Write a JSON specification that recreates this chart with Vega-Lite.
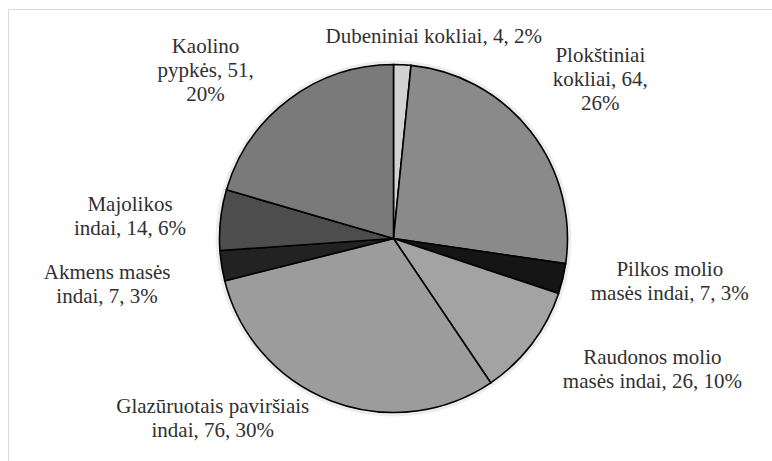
{
  "$schema": "https://vega.github.io/schema/vega-lite/v6.json",
  "width": 771,
  "height": 459,
  "autosize": {"type": "none"},
  "padding": {"left": 8, "top": 9, "right": -7, "bottom": -7},
  "background": "white",
  "config": {
    "view": {"stroke": "#d9d9d9", "strokeWidth": 1},
    "text": {"font": "Liberation Serif", "fontSize": 21, "fill": "#303030", "align": "center", "baseline": "middle", "lineBreak": "\n", "lineHeight": 24}
  },
  "data": {
    "values": [
      {"idx": 1, "cat": "Dubeniniai kokliai", "value": 4, "label": "Dubeniniai kokliai, 4, 2%"},
      {"idx": 2, "cat": "Plokštiniai kokliai", "value": 64, "label": "Plokštiniai\nkokliai, 64,\n26%"},
      {"idx": 3, "cat": "Pilkos molio masės indai", "value": 7, "label": "Pilkos molio\nmasės indai, 7, 3%"},
      {"idx": 4, "cat": "Raudonos molio masės indai", "value": 26, "label": "Raudonos molio\nmasės indai, 26, 10%"},
      {"idx": 5, "cat": "Glazūruotais paviršiais indai", "value": 76, "label": "Glazūruotais paviršiais\nindai, 76, 30%"},
      {"idx": 6, "cat": "Akmens masės indai", "value": 7, "label": "Akmens masės\nindai, 7, 3%"},
      {"idx": 7, "cat": "Majolikos indai", "value": 14, "label": "Majolikos\nindai, 14, 6%"},
      {"idx": 8, "cat": "Kaolino pypkės", "value": 51, "label": "Kaolino\npypkės, 51,\n20%"}
    ]
  },
  "layer": [
    {
      "mark": {"type": "point", "opacity": 0},
      "encoding": {
        "x": {"datum": 0, "type": "quantitative", "axis": null},
        "y": {"datum": 0, "type": "quantitative", "axis": null}
      }
    },
    {
      "mark": {"type": "arc", "outerRadius": 178, "fill": "#000000", "fillOpacity": 0.07, "strokeWidth": 0},
      "encoding": {
        "theta": {"field": "value", "type": "quantitative", "stack": true},
        "order": {"field": "idx", "type": "quantitative"},
        "detail": {"field": "cat", "type": "nominal"}
      }
    },
    {
      "mark": {"type": "arc", "outerRadius": 174, "stroke": "#000000", "strokeWidth": 1.6},
      "encoding": {
        "theta": {"field": "value", "type": "quantitative", "stack": true},
        "order": {"field": "idx", "type": "quantitative"},
        "color": {
          "field": "cat",
          "type": "nominal",
          "legend": null,
          "scale": {
            "domain": ["Dubeniniai kokliai", "Plokštiniai kokliai", "Pilkos molio masės indai", "Raudonos molio masės indai", "Glazūruotais paviršiais indai", "Akmens masės indai", "Majolikos indai", "Kaolino pypkės"],
            "range": ["#d2d2d2", "#8a8a8a", "#151515", "#a3a3a3", "#9c9c9c", "#222222", "#4d4d4d", "#7a7a7a"]
          }
        }
      }
    },
    {
      "mark": {"type": "text", "font": "Liberation Serif", "radius": 202, "dx": 30, "dy": 0},
      "encoding": {"theta": {"field": "value", "type": "quantitative", "stack": true}, "order": {"field": "idx", "type": "quantitative"}, "detail": {"field": "cat", "type": "nominal"}, "text": {"condition": {"test": "datum.idx === 1", "field": "label", "type": "nominal"}, "value": ""}}
    },
    {
      "mark": {"type": "text", "font": "Liberation Serif", "radius": 261, "dx": 1, "dy": -22},
      "encoding": {"theta": {"field": "value", "type": "quantitative", "stack": true}, "order": {"field": "idx", "type": "quantitative"}, "detail": {"field": "cat", "type": "nominal"}, "text": {"condition": {"test": "datum.idx === 2", "field": "label", "type": "nominal"}, "value": ""}}
    },
    {
      "mark": {"type": "text", "font": "Liberation Serif", "radius": 284, "dx": 0, "dy": -34},
      "encoding": {"theta": {"field": "value", "type": "quantitative", "stack": true}, "order": {"field": "idx", "type": "quantitative"}, "detail": {"field": "cat", "type": "nominal"}, "text": {"condition": {"test": "datum.idx === 3", "field": "label", "type": "nominal"}, "value": ""}}
    },
    {
      "mark": {"type": "text", "font": "Liberation Serif", "radius": 300, "dx": 20, "dy": -62},
      "encoding": {"theta": {"field": "value", "type": "quantitative", "stack": true}, "order": {"field": "idx", "type": "quantitative"}, "detail": {"field": "cat", "type": "nominal"}, "text": {"condition": {"test": "datum.idx === 4", "field": "label", "type": "nominal"}, "value": ""}}
    },
    {
      "mark": {"type": "text", "font": "Liberation Serif", "radius": 195, "dx": -111, "dy": -14},
      "encoding": {"theta": {"field": "value", "type": "quantitative", "stack": true}, "order": {"field": "idx", "type": "quantitative"}, "detail": {"field": "cat", "type": "nominal"}, "text": {"condition": {"test": "datum.idx === 5", "field": "label", "type": "nominal"}, "value": ""}}
    },
    {
      "mark": {"type": "text", "font": "Liberation Serif", "radius": 290, "dx": 0, "dy": -11},
      "encoding": {"theta": {"field": "value", "type": "quantitative", "stack": true}, "order": {"field": "idx", "type": "quantitative"}, "detail": {"field": "cat", "type": "nominal"}, "text": {"condition": {"test": "datum.idx === 6", "field": "label", "type": "nominal"}, "value": ""}}
    },
    {
      "mark": {"type": "text", "font": "Liberation Serif", "radius": 265, "dx": 0, "dy": -5},
      "encoding": {"theta": {"field": "value", "type": "quantitative", "stack": true}, "order": {"field": "idx", "type": "quantitative"}, "detail": {"field": "cat", "type": "nominal"}, "text": {"condition": {"test": "datum.idx === 7", "field": "label", "type": "nominal"}, "value": ""}}
    },
    {
      "mark": {"type": "text", "font": "Liberation Serif", "radius": 240, "dx": -44, "dy": 1},
      "encoding": {"theta": {"field": "value", "type": "quantitative", "stack": true}, "order": {"field": "idx", "type": "quantitative"}, "detail": {"field": "cat", "type": "nominal"}, "text": {"condition": {"test": "datum.idx === 8", "field": "label", "type": "nominal"}, "value": ""}}
    }
  ]
}
